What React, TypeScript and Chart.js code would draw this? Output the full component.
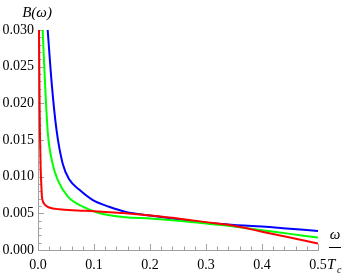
import React, { useEffect, useRef } from "react";
import { Chart, registerables } from "chart.js";

Chart.register(...registerables);

const redX = [0.0018, 0.0028, 0.0036, 0.0048, 0.0058, 0.007, 0.009, 0.011, 0.015, 0.02, 0.038, 0.07, 0.1, 0.157, 0.2, 0.25, 0.3, 0.35, 0.4, 0.45, 0.5];
const redY = [0.030, 0.020, 0.0153, 0.011, 0.0091, 0.0073, 0.0066, 0.0063, 0.006, 0.0058, 0.00555, 0.0054, 0.0053, 0.0050, 0.0047, 0.0043, 0.0038, 0.0033, 0.0025, 0.0017, 0.0009];

const greenX = [0.0083, 0.0125, 0.0175, 0.026, 0.035, 0.053, 0.08, 0.11, 0.157, 0.2, 0.25, 0.3, 0.35, 0.4, 0.45, 0.5];
const greenY = [0.030, 0.0228, 0.016, 0.0118, 0.0096, 0.0073, 0.0059, 0.0050, 0.00446, 0.0043, 0.0040, 0.0036, 0.0032, 0.0027, 0.0022, 0.0017];

const blueX = [0.0173, 0.0244, 0.033, 0.044, 0.056, 0.074, 0.098, 0.127, 0.157, 0.2, 0.25, 0.3, 0.35, 0.4, 0.45, 0.5];
const blueY = [0.030, 0.0228, 0.0164, 0.0118, 0.0096, 0.0082, 0.0068, 0.0059, 0.0052, 0.0047, 0.0042, 0.0037, 0.0034, 0.0032, 0.0029, 0.0026];

const xTicks = [0, 0.1, 0.2, 0.3, 0.4, 0.5];
const yTicks = [0, 0.005, 0.01, 0.015, 0.02, 0.025, 0.03];

const SERIF = '"Liberation Serif", "DejaVu Serif", serif';
const AXIS_COLOR = "#a0a0a0";

const toPoints = (xs: number[], ys: number[]) => xs.map((x, i) => ({ x, y: ys[i] }));

const decorPlugin = {
  id: "decor",
  beforeDatasetsDraw(chart: any) {
    const { ctx, chartArea, scales } = chart;
    const xs = scales.x;
    const ys = scales.y;
    ctx.save();
    ctx.strokeStyle = AXIS_COLOR;
    ctx.lineWidth = 1;
    for (let i = 0; i <= 25; i++) {
      const px = Math.round(xs.getPixelForValue(i * 0.02)) + 0.5;
      const len = i % 5 === 0 ? 6 : 3.5;
      ctx.beginPath();
      ctx.moveTo(px, chartArea.bottom);
      ctx.lineTo(px, chartArea.bottom - len);
      ctx.stroke();
    }
    for (let i = 0; i <= 30; i++) {
      const py = Math.round(ys.getPixelForValue(i * 0.001)) + 0.5;
      const len = i % 5 === 0 ? 6 : 3.5;
      ctx.beginPath();
      ctx.moveTo(chartArea.left, py);
      ctx.lineTo(chartArea.left + len, py);
      ctx.stroke();
    }
    ctx.restore();
  },
  afterDraw(chart: any) {
    const { ctx, chartArea } = chart;
    ctx.save();
    ctx.fillStyle = "#000";
    ctx.textBaseline = "middle";
    ctx.textAlign = "center";
    ctx.font = `italic 15px ${SERIF}`;
    ctx.fillText("B(ω)", 37, 13);
    // x label: ω over T_c
    const lx = chartArea.right + 17;
    ctx.font = `italic 15px ${SERIF}`;
    ctx.fillText("ω", lx, 235);
    ctx.strokeStyle = "#000";
    ctx.lineWidth = 1;
    ctx.beginPath();
    ctx.moveTo(lx - 6, 247.5);
    ctx.lineTo(lx + 6, 247.5);
    ctx.stroke();
    ctx.textAlign = "left";
    ctx.font = `italic 15px ${SERIF}`;
    ctx.fillText("T", chartArea.right + 9, 265);
    ctx.font = `italic 10px ${SERIF}`;
    ctx.fillText("c", chartArea.right + 19, 270);
    ctx.restore();
  },
};

export default function App() {
  const ref = useRef<HTMLCanvasElement>(null);
  useEffect(() => {
    document.body.style.margin = "0";
    const canvas = ref.current!;
    const mk = (label: string, xs: number[], ys: number[], color: string) => ({
      label,
      data: toPoints(xs, ys),
      borderColor: color,
      backgroundColor: color,
      borderWidth: 2,
      pointRadius: 0,
      cubicInterpolationMode: "monotone" as const,
      fill: false,
    });
    const chart = new Chart(canvas, {
      type: "line",
      data: {
        datasets: [
          mk("red", redX, redY, "#ff0000"),
          mk("green", greenX, greenY, "#00ff00"),
          mk("blue", blueX, blueY, "#0000ff"),
        ],
      },
      options: {
        animation: false,
        responsive: false,
        maintainAspectRatio: false,
        layout: { padding: { top: 30, right: 28, left: 0, bottom: 0 } },
        plugins: { legend: { display: false }, tooltip: { enabled: false } },
        scales: {
          x: {
            type: "linear",
            min: 0,
            max: 0.5,
            afterBuildTicks: (s: any) => {
              s.ticks = xTicks.map((v) => ({ value: v }));
            },
            afterFit: (s: any) => {
              s.height = 27;
            },
            grid: { display: false, drawTicks: false },
            border: { display: true, color: AXIS_COLOR, width: 1 },
            ticks: {
              color: "#000",
              padding: 7,
              maxRotation: 0,
              font: { family: SERIF, size: 14 },
              callback: (v: any) => Number(v).toFixed(1),
            },
          },
          y: {
            type: "linear",
            min: 0,
            max: 0.03,
            afterBuildTicks: (s: any) => {
              s.ticks = yTicks.map((v) => ({ value: v }));
            },
            afterFit: (s: any) => {
              s.width = 38;
            },
            grid: { display: false, drawTicks: false },
            border: { display: true, color: AXIS_COLOR, width: 1 },
            ticks: {
              color: "#000",
              padding: 4,
              font: { family: SERIF, size: 14 },
              callback: (v: any) => Number(v).toFixed(3),
            },
          },
        },
      },
      plugins: [decorPlugin],
    });
    return () => chart.destroy();
  }, []);
  return <canvas ref={ref} width={346} height={277} style={{ display: "block" }} />;
}
